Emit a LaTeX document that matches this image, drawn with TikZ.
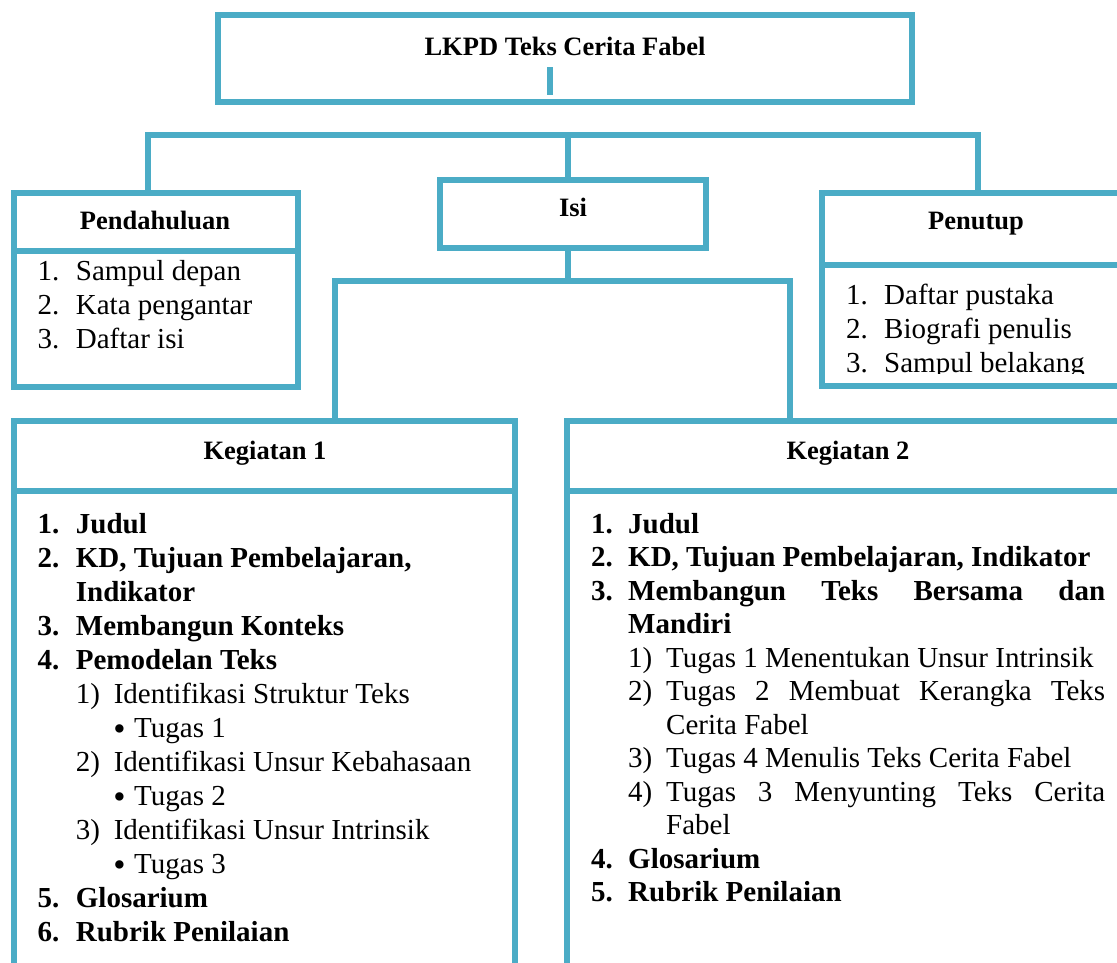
\documentclass[tikz,border=0pt]{standalone}
\usepackage{fontspec}
\setmainfont{Liberation Serif}
\definecolor{lk}{RGB}{75,172,198}
\begin{document}
\begin{tikzpicture}[x=1pt,y=-1pt,
  frame/.style={draw=lk, line width=6pt, inner sep=0pt, outer sep=0pt, anchor=north west},
  conn/.style={draw=lk, line width=6pt, line join=miter},
  hd/.style={font=\fontsize{26.5}{30}\selectfont\bfseries, anchor=base, inner sep=0pt},
  tx/.style={font=\fontsize{29}{34}\selectfont, anchor=base west, inner sep=0pt},
  bul/.style={font=\fontsize{35}{35}\selectfont, anchor=base, inner sep=0pt},
  bx/.style={font=\fontsize{29}{34}\selectfont\bfseries, anchor=base west, inner sep=0pt}]
\useasboundingbox (0,0) rectangle (1117,962);

% boxes
\node[frame, minimum width=694pt, minimum height=87.5pt] (top) at (218,14.5) {};
\node[frame, minimum width=284pt, minimum height=58pt] (pendh) at (14,193) {};
\node[frame, minimum width=284pt, minimum height=136pt] (pendb) at (14,251) {};
\node[frame, minimum width=266pt, minimum height=68pt] (isi) at (440,180) {};
\node[frame, minimum width=320pt, minimum height=72pt] (penh) at (822,193) {};
\node[frame, minimum width=320pt, minimum height=121pt] (penb) at (822,265) {};
\node[frame, minimum width=501pt, minimum height=70pt] (k1h) at (14,421) {};
\node[frame, minimum width=501pt, minimum height=530pt] (k1b) at (14,491) {};
\node[frame, minimum width=600pt, minimum height=70pt] (k2h) at (567,421) {};
\node[frame, minimum width=600pt, minimum height=530pt] (k2b) at (567,491) {};

% stray tick in the title box
\coordinate (t1) at (550,67);
\coordinate (t2) at (550,95);
\draw[conn] (t1) -- (t2);

% connectors
\coordinate (b1) at (148,135);
\coordinate (b2) at (978,135);
\coordinate (b3) at (568,135);
\draw[conn] (pendh.north -| b1) -- (b1) -- (b2) -- (b2 |- penh.north);
\draw[conn] (b3) -- (b3 |- isi.north);
\coordinate (c1) at (335,281);
\coordinate (c2) at (790,281);
\coordinate (c3) at (568,281);
\draw[conn] (isi.south -| c3) -- (c3);
\draw[conn] (k1h.north -| c1) -- (c1) -- (c2) -- (c2 |- k2h.north);

% headers
\node[hd] (ttl) at (565,55) {LKPD Teks Cerita Fabel};
\node[hd] (tpend) at (155,229) {Pendahuluan};
\node[hd] (tisi) at (573,216) {Isi};
\node[hd] (tpen) at (976,229) {Penutup};
\node[hd] (tk1) at (265,459) {Kegiatan 1};
\node[hd] (tk2) at (848,459) {Kegiatan 2};

% Pendahuluan list
\node[tx] (pn1) at (37.5,280) {1.};  \node[tx] (pt1) at (75.7,280) {Sampul depan};
\node[tx] (pn2) at (37.5,314) {2.};  \node[tx] (pt2) at (75.7,314) {Kata pengantar};
\node[tx] (pn3) at (37.5,348) {3.};  \node[tx] (pt3) at (75.7,348) {Daftar isi};

% Penutup list (clipped)
\begin{scope}
\clip (800,270) rectangle (1117,373);
\node[tx] (qn1) at (846,304) {1.};  \node[tx] (qt1) at (884,304) {Daftar pustaka};
\node[tx] (qn2) at (846,338) {2.};  \node[tx] (qt2) at (884,338) {Biografi penulis};
\node[tx] (qn3) at (846,372) {3.};  \node[tx] (qt3) at (884,372) {Sampul belakang};
\end{scope}

% Kegiatan 1 list
\node[bx] (a1n) at (37.5,533) {1.}; \node[bx] (a1t) at (75.7,533) {Judul};
\node[bx] (a2n) at (37.5,567) {2.}; \node[bx] (a2t) at (75.7,567) {KD, Tujuan Pembelajaran,};
\node[bx] (a2u) at (75.7,601) {Indikator};
\node[bx] (a3n) at (37.5,635) {3.}; \node[bx] (a3t) at (75.7,635) {Membangun Konteks};
\node[bx] (a4n) at (37.5,669) {4.}; \node[bx] (a4t) at (75.7,669) {Pemodelan Teks};
\node[tx] (s1n) at (75.7,703) {1)}; \node[tx] (s1t) at (113.6,703) {Identifikasi Struktur Teks};
\node[bul] (u1b) at (119.5,740) {•};  \node[tx] (u1t) at (134,737) {Tugas 1};
\node[tx] (s2n) at (75.7,771) {2)}; \node[tx] (s2t) at (113.6,771) {Identifikasi Unsur Kebahasaan};
\node[bul] (u2b) at (119.5,808) {•};  \node[tx] (u2t) at (134,805) {Tugas 2};
\node[tx] (s3n) at (75.7,839) {3)}; \node[tx] (s3t) at (113.6,839) {Identifikasi Unsur Intrinsik};
\node[bul] (u3b) at (119.5,876) {•};  \node[tx] (u3t) at (134,873) {Tugas 3};
\node[bx] (a5n) at (37.5,907) {5.}; \node[bx] (a5t) at (75.7,907) {Glosarium};
\node[bx] (a6n) at (37.5,941) {6.}; \node[bx] (a6t) at (75.7,941) {Rubrik Penilaian};

% Kegiatan 2 list
\node[bx] (b1n) at (591,533) {1.}; \node[bx] (b1t) at (628,533) {Judul};
\node[bx] (b2n) at (591,566.5) {2.}; \node[bx] (b2t) at (628,566.5) {KD, Tujuan Pembelajaran, Indikator};
\node[bx] (b3n) at (591,600) {3.}; \node[bx] (b3t) at (628,600) {\makebox[477pt][s]{Membangun Teks Bersama dan}};
\node[bx] (b3u) at (628,633.5) {Mandiri};
\node[tx] (r1n) at (628,667) {1)}; \node[tx] (r1t) at (666,667) {Tugas 1 Menentukan Unsur Intrinsik};
\node[tx] (r2n) at (628,700.5) {2)}; \node[tx] (r2t) at (666,700.5) {\makebox[439pt][s]{Tugas 2 Membuat Kerangka Teks}};
\node[tx] (r2u) at (666,734) {Cerita Fabel};
\node[tx] (r3n) at (628,767.5) {3)}; \node[tx] (r3t) at (666,767.5) {Tugas 4 Menulis Teks Cerita Fabel};
\node[tx] (r4n) at (628,801) {4)}; \node[tx] (r4t) at (666,801) {\makebox[439pt][s]{Tugas 3 Menyunting Teks Cerita}};
\node[tx] (r4u) at (666,834.5) {Fabel};
\node[bx] (b4n) at (591,868) {4.}; \node[bx] (b4t) at (628,868) {Glosarium};
\node[bx] (b5n) at (591,901.5) {5.}; \node[bx] (b5t) at (628,901.5) {Rubrik Penilaian};
\end{tikzpicture}
\end{document}
